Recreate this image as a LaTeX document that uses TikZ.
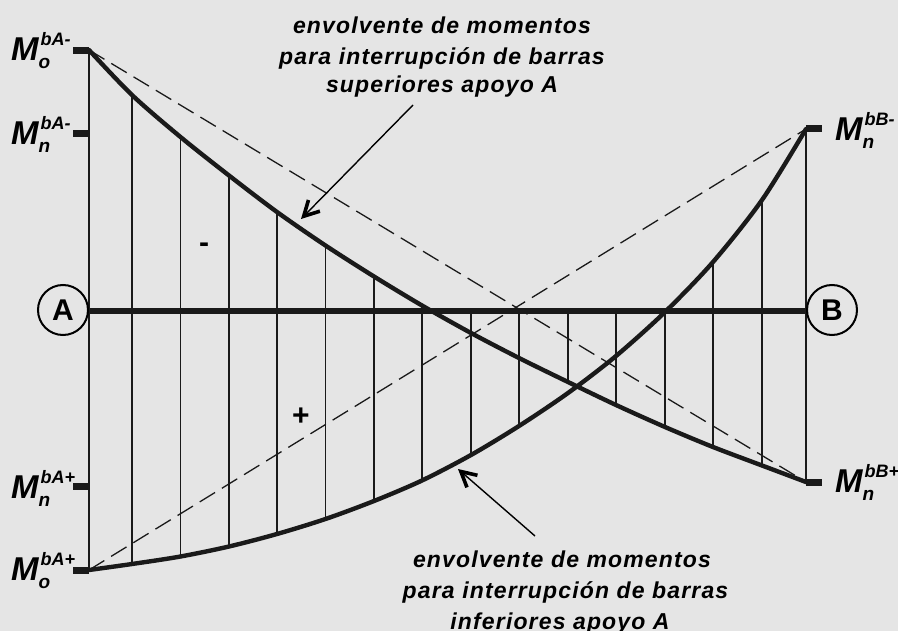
\documentclass[tikz,border=0pt]{standalone}
\usepackage{fontspec}
\setmainfont{Liberation Sans}
\usetikzlibrary{arrows.meta}
\definecolor{bgc}{HTML}{E5E5E5}
\definecolor{ink}{HTML}{1A1A1A}
\newfontfamily\lblfont[LetterSpace=5]{Liberation Sans}
\newcommand{\Mlab}[2]{{\fontsize{33}{33}\selectfont M}\rlap{\kern2pt\raisebox{15pt}{\fontsize{18}{18}\selectfont #1}}\raisebox{-8pt}{\fontsize{19}{19}\selectfont #2}}
\tikzset{
  thinv/.style={line width=1.3pt,draw=ink},
  thick curve/.style={line width=4.4pt,draw=ink,line cap=round},
  axisline/.style={line width=6.6pt,draw=ink},
  tickm/.style={line width=7pt,draw=ink},
  dashln/.style={line width=1.3pt,draw=ink,dash pattern=on 18pt off 8pt},
  support/.style={circle,draw=black,line width=2pt,minimum size=50pt,inner sep=0pt,fill=none,font=\fontsize{30}{30}\selectfont\bfseries},
  mlabel/.style={anchor=base west,inner sep=0pt,font=\bfseries\itshape},
  note/.style={inner sep=0pt,align=center,font=\fontsize{23}{31}\selectfont\bfseries\itshape\lblfont},
  signm/.style={inner sep=0pt,font=\fontsize{30}{30}\selectfont\bfseries},
  pointer/.style={line width=1.4pt,draw=black,-{Straight Barb[length=15pt,width=16pt,line width=3.6pt]}}
}
\begin{document}
\begin{tikzpicture}[x=1pt,y=-1pt]
\fill[bgc] (0,0) rectangle (898,631);
\useasboundingbox (0,0) rectangle (898,631);
% end points
\coordinate (TA) at (89,50);
\coordinate (TB) at (806,482);
\coordinate (BA) at (89,570);
\coordinate (BB) at (806,129);
% envelope points
\foreach \n/\x/\u/\l in {0/89/50/570,1/132/95/564,2/180.5/137/556.5,3/229/175.5/546.5,4/277/212/534,5/325.5/245.5/519,6/374/276.5/501,7/422/305.5/480.5,8/471/333/455,9/519/358/426,10/568/382/393,11/616/405/356,12/665/427/312,13/713/447/262,14/762/465.5/200,15/806/482/129}{
  \coordinate (u\n) at (\x,\u);
  \coordinate (l\n) at (\x,\l);
  \coordinate (ax\n) at (\x,311);
}
% verticals
\foreach \n in {0,...,7,13,14,15}{\draw[thinv] (u\n) -- (l\n);}
\foreach \n in {8,9}{\draw[thinv] (ax\n) -- (l\n);}
\foreach \n in {10,11,12}{\draw[thinv] (ax\n) -- (u\n);}
% dashed closing lines
\draw[dashln] (TA) -- (TB);
\draw[dashln] (BA) -- (BB);
% envelopes
\draw[thick curve] plot[smooth] coordinates {(u0)(u1)(u2)(u3)(u4)(u5)(u6)(u7)(u8)(u9)(u10)(u11)(u12)(u13)(u14)(u15)};
\draw[thick curve] plot[smooth] coordinates {(l0)(l1)(l2)(l3)(l4)(l5)(l6)(l7)(l8)(l9)(l10)(l11)(l12)(l13)(l14)(l15)};
% supports and axis
\node[support] (A) at (63,310) {A};
\node[support] (B) at (832,310) {B};
\draw[axisline] (89,311) -- (806,311);
% ticks
\coordinate (t1a) at (73,50.5); \coordinate (t1b) at (89,50.5);
\coordinate (t2a) at (73,134); \coordinate (t2b) at (89,134);
\coordinate (t3a) at (73,486); \coordinate (t3b) at (89,486);
\coordinate (t4a) at (73,570); \coordinate (t4b) at (89,570);
\coordinate (t5a) at (806,129); \coordinate (t5b) at (822,129);
\coordinate (t6a) at (806,482); \coordinate (t6b) at (822,482);
\foreach \n in {1,...,6}{\draw[tickm] (t\n a) -- (t\n b);}
% moment labels
\node[mlabel] (m1) at (11,61) {\Mlab{bA-}{o}};
\node[mlabel] (m2) at (11,145) {\Mlab{bA-}{n}};
\node[mlabel] (m3) at (11,498) {\Mlab{bA+}{n}};
\node[mlabel] (m4) at (11,580) {\Mlab{bA+}{o}};
\node[mlabel] (m5) at (835,141) {\Mlab{bB-}{n}};
\node[mlabel] (m6) at (835,492) {\Mlab{bB+}{n}};
% signs
\node[signm] (minus) at (204,248) {-};
\node[signm] (plus) at (301,417) {+};
% notes
\node[note] (n1) at (442,57.5) {envolvente de momentos\\para interrupción de barras\\[-3pt]superiores apoyo A};
\node[note] (n2) at (565.5,592.5) {envolvente de momentos\hspace*{7pt}\\para interrupción de barras\\inferiores apoyo A\hspace*{11pt}};
% pointers
\coordinate (p1s) at (413,105); \coordinate (p1e) at (301,219);
\coordinate (p2s) at (535,536); \coordinate (p2e) at (458,469);
\draw[pointer] (p1s) -- (p1e);
\draw[pointer] (p2s) -- (p2e);
\end{tikzpicture}
\end{document}
